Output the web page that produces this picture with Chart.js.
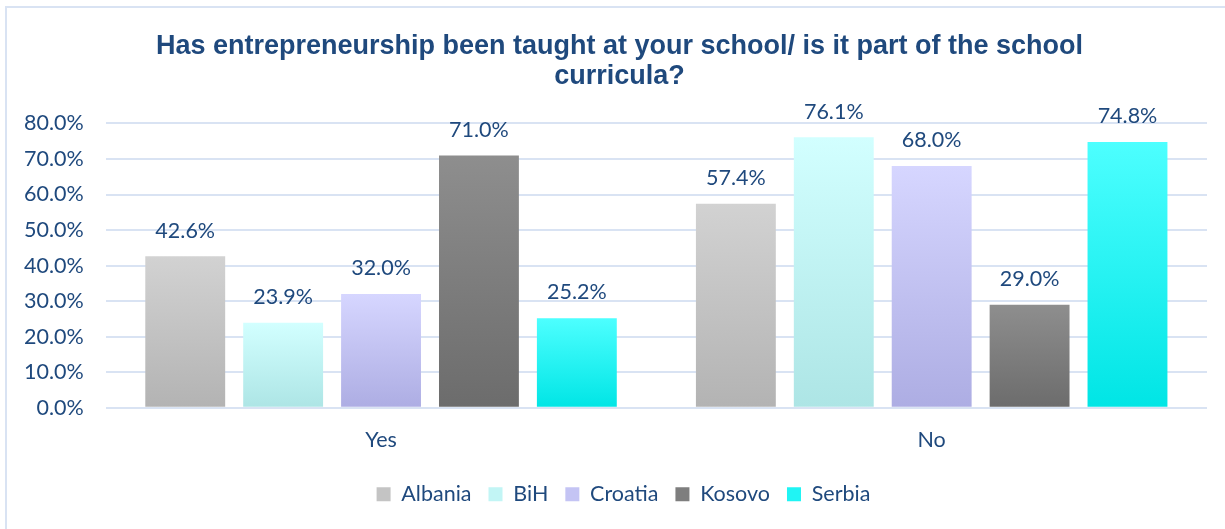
<!DOCTYPE html>
<html>
<head>
<meta charset="utf-8">
<script src="https://cdn.jsdelivr.net/npm/chart.js@4"></script>
<style>
  html, body { margin: 0; padding: 0; background: #fff; }
  #wrap { width: 1225px; height: 529px; position: relative; }
</style>
</head>
<body>
<div id="wrap"><canvas id="schoolChart"></canvas></div>
<script>
// chart data
const categories = ['Yes', 'No'];
const countries = ['Albania', 'BiH', 'Croatia', 'Kosovo', 'Serbia'];
const albania = [42.6, 57.4];
const bih = [23.9, 76.1];
const croatia = [32.0, 68.0];
const kosovo = [71.0, 29.0];
const serbia = [25.2, 74.8];
const yTicks = [0, 10, 20, 30, 40, 50, 60, 70, 80];

// top / bottom colours of each bar gradient
const topColors = ['#d2d2d2', '#d2ffff', '#d6d6ff', '#8e8e8e', '#4dffff'];
const bottomColors = ['#b3b3b3', '#ade5e5', '#adade3', '#6c6c6c', '#00e5e5'];
const midColors = ['#c4c4c4', '#c2f5f5', '#c4c4f4', '#7e7e7e', '#20f4f4'];

const textBlue = '#1f497d';
const gridBlue = '#d9e3f3';
const bodyFont = 'Lato, "Open Sans", sans-serif';
const bodySize = 21.5;

function barGradient(i) {
    return function (context) {
        const chart = context.chart;
        if (!chart.chartArea || context.parsed == null) return midColors[i];
        const yScale = chart.scales.y;
        const top = yScale.getPixelForValue(context.parsed.y);
        const bottom = yScale.getPixelForValue(0);
        if (!isFinite(top) || top === bottom) return midColors[i];
        const g = chart.ctx.createLinearGradient(0, top, 0, bottom);
        g.addColorStop(0, topColors[i]);
        g.addColorStop(1, bottomColors[i]);
        return g;
    };
}

// value labels above the bars
const valueLabels = {
    id: 'valueLabels',
    afterDatasetsDraw(chart) {
        const ctx = chart.ctx;
        ctx.save();
        ctx.font = bodySize + 'px ' + bodyFont;
        ctx.fillStyle = textBlue;
        ctx.textAlign = 'center';
        ctx.textBaseline = 'bottom';
        chart.data.datasets.forEach((ds, di) => {
            chart.getDatasetMeta(di).data.forEach((bar, i) => {
                ctx.fillText(ds.data[i].toFixed(1) + '%', bar.x, bar.y - 15);
            });
        });
        ctx.restore();
    }
};

// thin outline round the whole chart
const outline = {
    id: 'outline',
    beforeDraw(chart) {
        const ctx = chart.ctx;
        ctx.save();
        ctx.strokeStyle = gridBlue;
        ctx.lineWidth = 2;
        ctx.strokeRect(6, 7, 1260, 560);
        ctx.restore();
    }
};

// the original frame is a bit wider than the picture, so title and legend sit right of centre
const shiftBoxes = {
    id: 'shiftBoxes',
    afterLayout(chart) {
        if (chart.titleBlock) {
            chart.titleBlock.left += 15;
            chart.titleBlock.right += 15;
        }
        if (chart.legend) {
            chart.legend.left += 19;
            chart.legend.right += 19;
        }
    }
};

const seriesValues = [albania, bih, croatia, kosovo, serbia];

const ctx = document.getElementById('schoolChart').getContext('2d');
new Chart(ctx, {
    type: 'bar',
    data: {
        labels: categories,
        datasets: countries.map((name, i) => ({
            label: name,
            data: seriesValues[i],
            backgroundColor: barGradient(i),
            categoryPercentage: 0.889,
            barPercentage: 0.816
        }))
    },
    options: {
        responsive: true,
        maintainAspectRatio: false,
        animation: false,
        layout: { padding: { left: 2, right: 18, top: 14, bottom: 14 } },
        plugins: {
            title: {
                display: true,
                text: ['Has entrepreneurship been taught at your school/ is it part of the school', 'curricula?'],
                color: textBlue,
                font: { family: '"Liberation Sans", Arial, sans-serif', size: 27, weight: 'bold', lineHeight: 1.12 },
                padding: { top: 17, bottom: 32 }
            },
            legend: {
                position: 'bottom',
                labels: {
                    color: textBlue,
                    font: { family: bodyFont, size: bodySize },
                    boxWidth: 14,
                    boxHeight: 14,
                    padding: 17,
                    generateLabels(chart) {
                        return chart.data.datasets.map((ds, i) => ({
                            text: ds.label,
                            fillStyle: midColors[i],
                            strokeStyle: midColors[i],
                            lineWidth: 0,
                            fontColor: textBlue,
                            datasetIndex: i
                        }));
                    }
                }
            },
            tooltip: { enabled: false }
        },
        scales: {
            x: {
                grid: { display: false },
                border: { display: false },
                ticks: {
                    color: textBlue,
                    font: { family: bodyFont, size: bodySize },
                    padding: 11
                },
                afterFit(axis) {
                    axis.height += 3;
                }
            },
            y: {
                min: 0,
                max: 80,
                afterBuildTicks(axis) {
                    axis.ticks = yTicks.map(v => ({ value: v }));
                },
                grid: { color: gridBlue, lineWidth: 2, drawTicks: false },
                border: { display: false },
                ticks: {
                    color: textBlue,
                    font: { family: bodyFont, size: bodySize },
                    padding: 22,
                    callback: v => v.toFixed(1) + '%'
                }
            }
        }
    },
    plugins: [outline, valueLabels, shiftBoxes]
});
</script>
</body>
</html>
